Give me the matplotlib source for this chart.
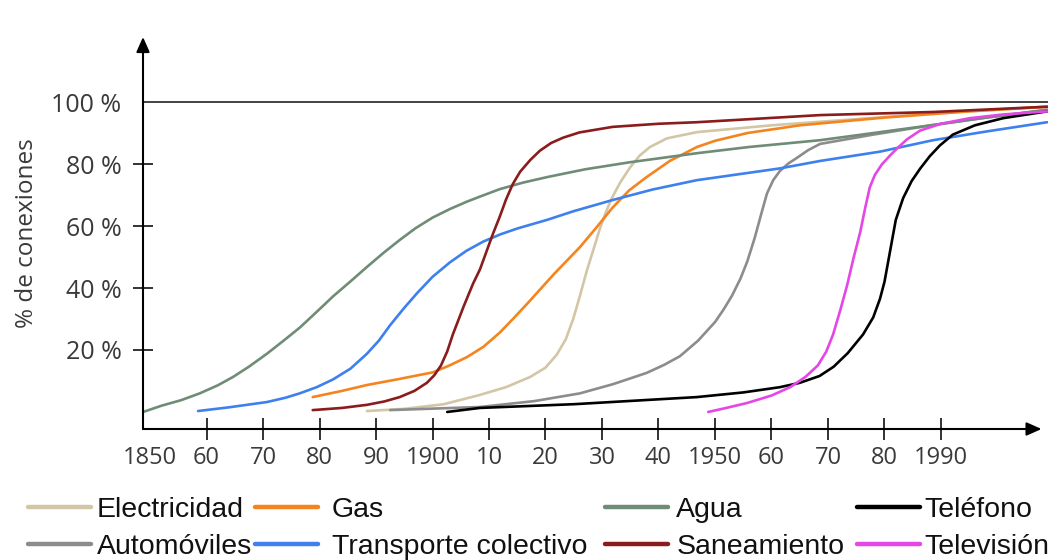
import matplotlib
matplotlib.use("Agg")
import matplotlib.pyplot as plt

# values (year, % de conexiones)
agua_years = [1848.8, 1852, 1855.5, 1858.8, 1862, 1864.7, 1867.5, 1870.7, 1873.5, 1876.5, 1879.5,
              1882.4, 1885.4, 1888.4, 1891.3, 1894.2, 1897, 1900, 1903.1, 1906, 1908.4, 1911.9,
              1916, 1920.3, 1927, 1935, 1946.8, 1956, 1968.6, 1978, 1988.6, 1998, 2008.8]
agua_pct = [0, 2, 3.8, 6, 8.6, 11.3, 14.6, 18.8, 22.8, 27.2, 32.3,
            37.3, 42, 46.8, 51.3, 55.5, 59.3, 62.7, 65.5, 67.8, 69.5, 71.9,
            74, 75.8, 78.3, 80.6, 83.5, 85.5, 87.7, 90, 92.6, 95, 97.5]

transporte_years = [1858.5, 1864, 1870.7, 1874, 1876.5, 1879.5, 1882.4, 1885.5, 1888.4, 1890.5,
                    1892.5, 1895, 1897.3, 1900, 1903.1, 1906, 1909, 1912, 1915, 1920.3, 1925,
                    1931.9, 1939, 1946.8, 1961.5, 1968.6, 1979.2, 1988.6, 1998, 2008.8]
transporte_pct = [0.3, 1.5, 3.2, 4.6, 6, 8, 10.5, 14, 18.8, 23,
                  28, 33.6, 38.4, 43.6, 48.3, 52, 55, 57.3, 59.2, 62, 64.8,
                  68.4, 71.8, 74.8, 78.6, 81, 84, 87.7, 90.5, 93.5]

gas_years = [1878.8, 1884, 1888.4, 1894, 1900.1, 1903, 1906.1, 1909, 1911.9, 1914.5, 1917.3,
             1921.5, 1926.1, 1929, 1931.9, 1934.8, 1937.9, 1942, 1946.8, 1950, 1955.7, 1965,
             1980, 1995, 2008.8]
gas_pct = [4.8, 6.8, 8.7, 10.6, 12.8, 15, 17.7, 21, 25.6, 30.5, 36,
           44.5, 53.2, 59.5, 66, 71.5, 75.8, 81, 85.5, 87.5, 90, 92.5,
           95, 97, 98.5]

saneamiento_years = [1878.8, 1884, 1888.4, 1891.5, 1894.2, 1896.8, 1899, 1900.3, 1901.5, 1902.6,
                     1903.6, 1905.5, 1907.2, 1908.4, 1909.6, 1910.7, 1911.9, 1913, 1914.2, 1915.5,
                     1917.3, 1919, 1921, 1923.1, 1926, 1931.9, 1940, 1946.8, 1968.6, 1988.6, 2008.8]
saneamiento_pct = [0.6, 1.3, 2.3, 3.4, 4.8, 6.8, 9.4, 11.8, 15, 19.5,
                   25, 34, 41.5, 46, 52, 57.5, 63, 68.5, 73.5, 77.5,
                   81.3, 84.3, 86.8, 88.5, 90.2, 92, 93, 93.5, 95.8, 96.8, 98.5]

electricidad_years = [1888.4, 1895, 1902, 1908.4, 1913, 1917.3, 1920, 1922, 1923.6, 1924.9, 1926.1,
                      1927.3, 1928.5, 1929.6, 1930.6, 1931.6, 1933.2, 1935, 1936.7, 1938.5, 1941.5,
                      1946.8, 1960, 1975, 1990, 2008.8]
electricidad_pct = [0.3, 1, 2.5, 5.5, 8, 11.3, 14.3, 18.5, 23.5, 30, 37.5,
                    45.5, 52.5, 59, 64, 68.5, 74, 79, 82.8, 85.5, 88.3,
                    90.3, 92.5, 94.5, 96.5, 98.5]

automoviles_years = [1892.5, 1908.4, 1918, 1926.1, 1932, 1937.9, 1941, 1943.8, 1947, 1950, 1951.5,
                     1953, 1954.5, 1955.7, 1957, 1958.2, 1959.2, 1960.3, 1961.5, 1963, 1964.5,
                     1966.5, 1968.6, 1978, 1988.6, 1998, 2008.8]
automoviles_pct = [0.6, 1.6, 3.5, 6, 9, 12.6, 15.2, 18, 23, 29, 33,
                   37.5, 43, 48.5, 56, 64, 70.5, 74.8, 77.8, 80.2, 82,
                   84.5, 86.5, 89.5, 92.6, 95, 97.5]

telefono_years = [1902.6, 1908.4, 1925, 1946.8, 1955, 1961.5, 1965, 1968.5, 1971, 1973.5, 1976.2,
                  1978, 1979.2, 1980, 1980.6, 1981.3, 1982, 1983.3, 1984.8, 1986.3, 1988, 1989.8,
                  1992.1, 1996, 2001, 2008.8]
telefono_pct = [0, 1.3, 2.5, 4.8, 6.3, 8, 9.4, 11.6, 14.6, 19, 25,
                30.5, 36.5, 42, 48, 55, 62, 69, 74.5, 78.5, 82.5, 86,
                89.5, 92.5, 94.8, 97]

television_years = [1948.8, 1952, 1955.7, 1960, 1963.3, 1966, 1968.2, 1969.7, 1970.9, 1972.2,
                    1973.4, 1974.5, 1975.7, 1976.6, 1977.4, 1978.3, 1979.5, 1981, 1982.2, 1984,
                    1986.3, 1990, 1995.1, 2001, 2008.8]
television_pct = [0, 1.3, 2.9, 5.3, 8, 11.3, 15, 19.5, 25, 33,
                  41, 49.5, 58, 66, 72.5, 76.5, 79.8, 82.8, 85, 88,
                  90.8, 93, 94.8, 96, 97]

x_ticks = [1850, 1860, 1870, 1880, 1890, 1900, 1910, 1920, 1930, 1940, 1950, 1960, 1970, 1980, 1990]
x_labels = ["1850", "60", "70", "80", "90", "1900", "10", "20", "30", "40", "1950", "60", "70", "80", "1990"]
y_ticks = [20, 40, 60, 80, 100]
y_labels = ["20 %", "40 %", "60 %", "80 %", "100 %"]

series = [
    ("Electricidad", electricidad_years, electricidad_pct, "#d3c6a6"),
    ("Automóviles", automoviles_years, automoviles_pct, "#8c8c8c"),
    ("Gas", gas_years, gas_pct, "#f5841f"),
    ("Transporte colectivo", transporte_years, transporte_pct, "#3d80ee"),
    ("Agua", agua_years, agua_pct, "#6f8c76"),
    ("Saneamiento", saneamiento_years, saneamiento_pct, "#8a1c1c"),
    ("Teléfono", telefono_years, telefono_pct, "#000000"),
    ("Televisión", television_years, television_pct, "#e447e6"),
]

plt.rcParams["font.family"] = ["Open Sans", "DejaVu Sans"]

fig = plt.figure(figsize=(10.48, 5.6), dpi=100)
ax = fig.add_axes([143 / 1048, 131 / 560, 905 / 1048, 392 / 560])
ax.set_xlim(1848.76, 2008.94)
ax.set_ylim(-5.5, 121)

handles = []
for name, xs, ys, col in series:
    ln, = ax.plot(xs, ys, color=col, lw=1.9, label=name, solid_joinstyle="round",
                  solid_capstyle="round", clip_on=False)
    handles.append(ln)

# 100 % reference line
ax.axhline(100, color="#222222", lw=1.2, zorder=1)

for s in ax.spines.values():
    s.set_visible(False)

# axes with arrow heads
ax.annotate("", xy=(2007.8, -5.5), xytext=(1848.76, -5.5), xycoords="data",
            arrowprops=dict(arrowstyle="-|>,head_length=0.9,head_width=0.4", color="black", lw=1.5,
                            shrinkA=0, shrinkB=0), annotation_clip=False)
ax.annotate("", xy=(1848.76, 121), xytext=(1848.76, -5.5), xycoords="data",
            arrowprops=dict(arrowstyle="-|>,head_length=0.9,head_width=0.4", color="black", lw=1.5,
                            shrinkA=0, shrinkB=0), annotation_clip=False)

ax.set_xticks(x_ticks)
ax.set_xticklabels(x_labels)
ax.set_yticks(y_ticks)
ax.set_yticklabels(y_labels)
ax.tick_params(axis="x", direction="inout", length=16, width=1.3, color="#222222",
               labelsize=17, labelcolor="#3a3a3a", pad=4)
ax.tick_params(axis="y", direction="inout", length=15, width=1.3, color="#222222",
               labelsize=18, labelcolor="#3a3a3a", pad=8)
ax.xaxis.get_major_ticks()[0].tick1line.set_visible(False)
ax.yaxis.get_major_ticks()[-1].tick1line.set_visible(False)

ax.set_ylabel("% de conexiones", fontsize=17.5, color="#3a3a3a", labelpad=9)

# legend: four columns of two entries, placed like the original
col_x = [28, 255, 605, 857]
col_pad = [0.22, 0.5, 0.3, 0.15]
for i in range(4):
    leg = fig.legend(handles=handles[2 * i:2 * i + 2], loc="upper left",
                     bbox_to_anchor=(col_x[i] / 1048, 0.113),
                     frameon=False, borderpad=0, borderaxespad=0, handlelength=2.2,
                     handletextpad=col_pad[i], labelspacing=0.4,
                     prop={"family": ["Liberation Sans", "DejaVu Sans"], "size": 20.5})
    for t in leg.get_texts():
        t.set_color("#111111")
    for l in leg.get_lines():
        l.set_linewidth(3.2)

fig.savefig("out.png", dpi=100)
